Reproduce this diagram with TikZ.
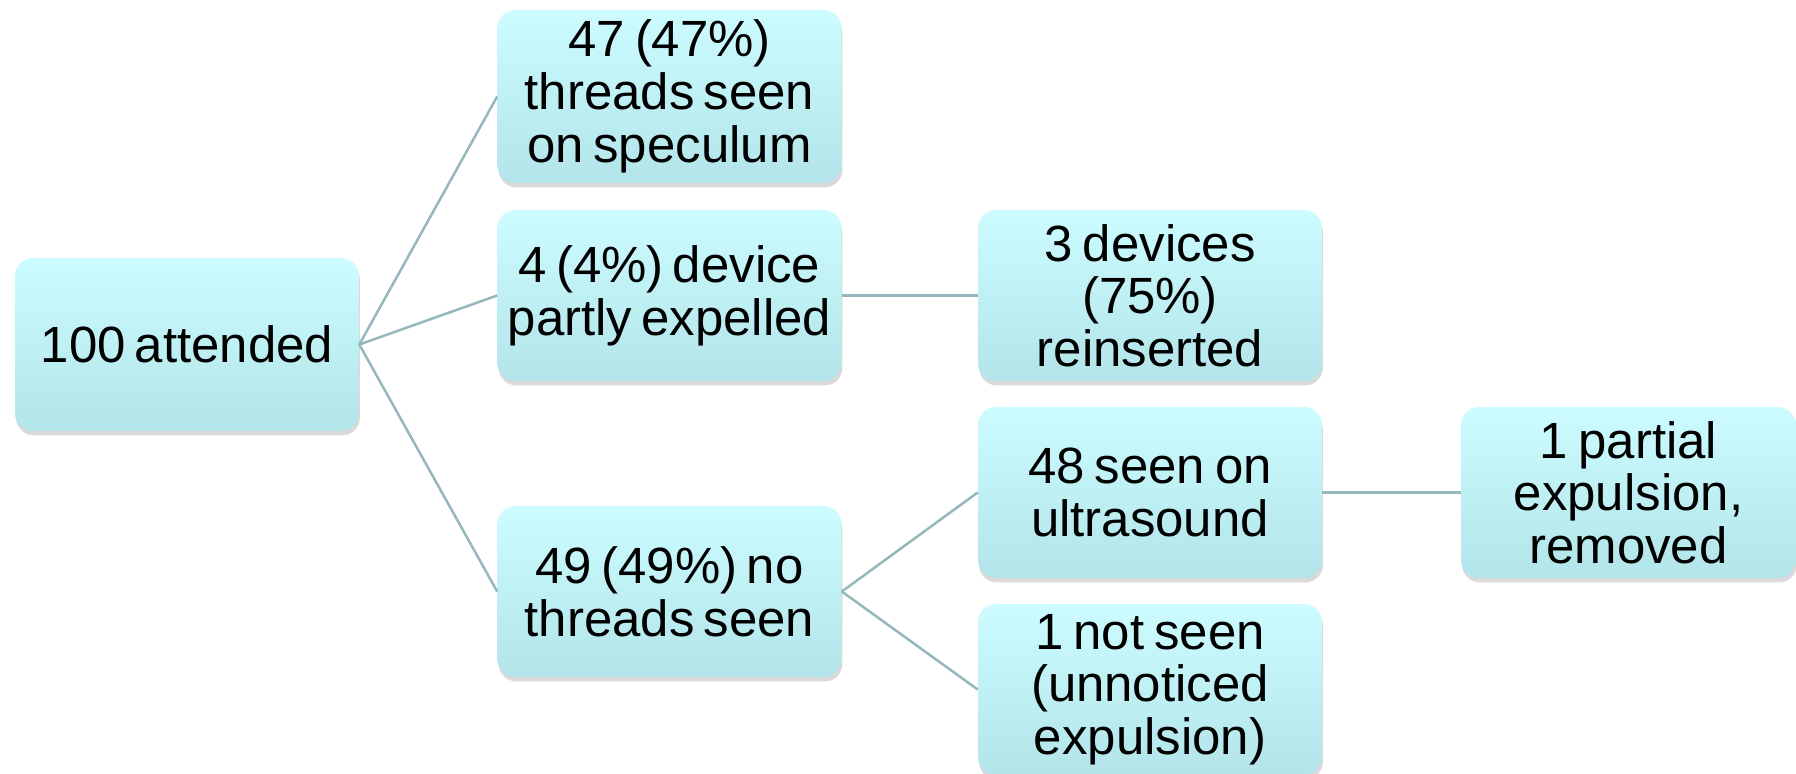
\documentclass[tikz,border=0pt]{standalone}
\usepackage{fontspec}
\setmainfont{Liberation Sans}
\usetikzlibrary{shadows}
\definecolor{boxtop}{HTML}{CCFCFF}
\definecolor{boxbot}{HTML}{B2E4E9}
\definecolor{linkc}{HTML}{94B8BB}
\newcommand{\tightsp}{\spaceskip=0.17em plus 0.05em\relax}
\tikzset{
  box/.style={rounded corners=0.36cm, top color=boxtop, bottom color=boxbot,
    draw=none, minimum width=6.88cm, minimum height=3.42cm, text width=6.8cm,
    align=center, inner sep=0pt,
    font=\fontsize{29pt}{30pt}\selectfont,
    execute at begin node=\tightsp,
    drop shadow={shadow xshift=0.02cm, shadow yshift=-0.09cm, opacity=0.25, fill=black!60}},
  link/.style={draw=linkc, line width=0.05cm}
}
\begin{document}
\begin{tikzpicture}[x=0.02cm,y=-0.02cm]
\useasboundingbox (0,0) rectangle (1796,774);
\node[box, minimum height=3.46cm] (root) at (187,344.5) {100 attended};
\node[box, minimum height=3.46cm] (a) at (669.5,96.5) {47 (47\%)\\threads seen\\on speculum};
\node[box] (b) at (669.5,295.5) {4 (4\%) device\\partly expelled};
\node[box] (c) at (669.5,591.5) {49 (49\%) no\\threads seen};
\node[box] (d) at (1150,295.5) {3 devices\\(75\%)\\reinserted};
\node[box] (e) at (1150,492.5) {48 seen on\\ultrasound};
\node[box] (f) at (1150,689.5) {1 not seen\\(unnoticed\\expulsion)};
\node[box, minimum width=6.7cm, text width=6.6cm] (g) at (1628.5,492.5) {1 partial\\expulsion,\\removed};
\draw[link] (root.east) -- (a.west);
\draw[link] (root.east) -- (b.west);
\draw[link] (root.east) -- (c.west);
\draw[link] (b.east) -- (d.west);
\draw[link] (c.east) -- (e.west);
\draw[link] (c.east) -- (f.west);
\draw[link] (e.east) -- (g.west);
\end{tikzpicture}
\end{document}
